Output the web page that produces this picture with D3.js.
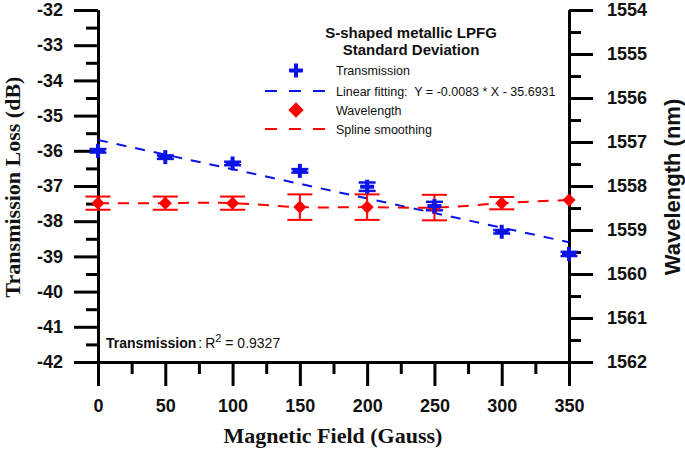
<!DOCTYPE html>
<html>
<head>
<meta charset="utf-8">
<script src="https://cdn.jsdelivr.net/npm/d3@7"></script>
<style>
  html, body { margin: 0; padding: 0; background: #fff; }
  svg { display: block; }
</style>
</head>
<body>
<svg id="chart" width="685" height="450"></svg>
<script>
// ---- data ----
const fields = [0, 50, 100, 150, 200, 250, 300, 350];
const transmission = [-36.0, -36.18, -36.36, -36.57, -37.02, -37.57, -38.30, -38.93];
const transmissionErr = [0.05, 0.05, 0.05, 0.05, 0.12, 0.12, 0.05, 0.06];
const wavelength = [1558.39, 1558.39, 1558.39, 1558.48, 1558.48, 1558.49, 1558.39, 1558.32];
const wavelengthErr = [0.15, 0.15, 0.15, 0.29, 0.29, 0.29, 0.14, 0.0];
const fitSlope = -0.0083;
const fitIntercept = -35.6931;
const xTicks = [0, 50, 100, 150, 200, 250, 300, 350];
const xMinorTicks = [25, 75, 125, 175, 225, 275, 325];
const yLeftTicks = [-42, -41, -40, -39, -38, -37, -36, -35, -34, -33, -32];
const yRightTicks = [1554, 1555, 1556, 1557, 1558, 1559, 1560, 1561, 1562];
const legendTitle = ["S-shaped metallic LPFG", "Standard Deviation"];
const legendLabels = ["Transmission", "Linear fitting:  Y = -0.0083 * X - 35.6931", "Wavelength", "Spline smoothing"];

// ---- layout ----
const svg = d3.select("#chart");
const x = d3.scaleLinear().domain([0, 350]).range([98, 569]);
const yL = d3.scaleLinear().domain([-42, -32]).range([362, 10]);
const yR = d3.scaleLinear().domain([1554, 1562]).range([10, 362]);
const BLUE = "#0a14e6", RED = "#ff0000";
const tickFont = "bold 18px Arial, 'Liberation Sans', sans-serif";
const fmt = d => String(d);

function styleAxis(g) {
  g.selectAll("path.domain").attr("stroke", "#000").attr("stroke-width", 3);
  g.selectAll(".tick line").attr("stroke", "#000").attr("stroke-width", 3);
  g.selectAll(".tick text").style("font", tickFont).attr("fill", "#111");
}
function minorVals(ticks) {
  const out = [];
  for (let i = 0; i < ticks.length - 1; i++) out.push((ticks[i] + ticks[i + 1]) / 2);
  return out;
}

// minor ticks
svg.append("g").attr("transform", "translate(0,362)")
  .call(d3.axisBottom(x).tickValues(xMinorTicks).tickSize(12).tickSizeOuter(0).tickFormat(""))
  .call(styleAxis);
svg.append("g").attr("transform", "translate(98,0)")
  .call(d3.axisLeft(yL).tickValues(minorVals(yLeftTicks)).tickSize(12).tickSizeOuter(0).tickFormat(""))
  .call(styleAxis);
svg.append("g").attr("transform", "translate(569,0)")
  .call(d3.axisRight(yR).tickValues(minorVals(yRightTicks)).tickSize(12).tickSizeOuter(0).tickFormat(""))
  .call(styleAxis);

// major axes
svg.append("g").attr("transform", "translate(0,362)")
  .call(d3.axisBottom(x).tickValues(xTicks).tickSize(24).tickSizeOuter(0).tickPadding(13).tickFormat(fmt))
  .call(styleAxis);
svg.append("g").attr("transform", "translate(98,0)")
  .call(d3.axisLeft(yL).tickValues(yLeftTicks).tickSize(24).tickSizeOuter(0).tickPadding(11).tickFormat(fmt))
  .call(styleAxis);
svg.append("g").attr("transform", "translate(569,0)")
  .call(d3.axisRight(yR).tickValues(yRightTicks).tickSize(24).tickSizeOuter(0).tickPadding(14).tickFormat(fmt))
  .call(styleAxis);

// axis titles
svg.append("text").attr("x", 333).attr("y", 443).attr("text-anchor", "middle")
  .style("font", "bold 22px 'Liberation Serif', 'Times New Roman', serif").attr("fill", "#111")
  .text("Magnetic Field (Gauss)");
svg.append("text").attr("transform", "translate(20,187) rotate(-90)").attr("text-anchor", "middle")
  .style("font", "bold 22px 'Liberation Serif', 'Times New Roman', serif").attr("fill", "#111")
  .text("Transmission Loss (dB)");
svg.append("text").attr("transform", "translate(680,187) rotate(-90)").attr("text-anchor", "middle")
  .style("font", "bold 22px Arial, 'Liberation Sans', sans-serif").attr("fill", "#111")
  .text("Wavelength (nm)");

// linear fit
const fitLine = d3.line().x(d => x(d)).y(d => yL(fitSlope * d + fitIntercept));
svg.append("path").datum([fields[0], fields[fields.length - 1]])
  .attr("d", fitLine).attr("fill", "none").attr("stroke", BLUE)
  .attr("stroke-width", 2).attr("stroke-dasharray", "10,9");

// spline
const spline = d3.line().x((d, i) => x(fields[i])).y(d => yR(d)).curve(d3.curveNatural);
svg.append("path").datum(wavelength)
  .attr("d", spline).attr("fill", "none").attr("stroke", RED)
  .attr("stroke-width", 2).attr("stroke-dasharray", "11,9");

// error bars
function errorBars(vals, errs, scale, color, capW, sw) {
  const g = svg.append("g").attr("stroke", color).attr("stroke-width", sw);
  vals.forEach((v, i) => {
    if (errs[i] <= 0) return;
    const cx = x(fields[i]);
    const y1 = scale(v - errs[i]), y2 = scale(v + errs[i]);
    g.append("line").attr("x1", cx).attr("x2", cx).attr("y1", y1).attr("y2", y2);
    g.append("line").attr("x1", cx - capW / 2).attr("x2", cx + capW / 2).attr("y1", y1).attr("y2", y1);
    g.append("line").attr("x1", cx - capW / 2).attr("x2", cx + capW / 2).attr("y1", y2).attr("y2", y2);
  });
}
errorBars(wavelength, wavelengthErr, yR, RED, 25, 2);
errorBars(transmission, transmissionErr, yL, BLUE, 17, 2.5);

// markers
const diamond = d3.symbol().type(d3.symbolDiamond2).size(110);
svg.append("g").selectAll("path").data(wavelength).join("path")
  .attr("transform", (d, i) => `translate(${x(fields[i])},${yR(d)})`)
  .attr("d", diamond).attr("fill", RED);

function plus(g, cx, cy, s, w) {
  g.append("rect").attr("x", cx - s / 2).attr("y", cy - w / 2).attr("width", s).attr("height", w);
  g.append("rect").attr("x", cx - w / 2).attr("y", cy - s / 2).attr("width", w).attr("height", s);
}
const pg = svg.append("g").attr("fill", BLUE);
transmission.forEach((v, i) => plus(pg, x(fields[i]), yL(v), 14, 4));

// legend
const lg = svg.append("g");
legendTitle.forEach((t, i) => {
  lg.append("text").attr("x", 411).attr("y", 38 + i * 16.5).attr("text-anchor", "middle")
    .style("font", "bold 15px Arial, 'Liberation Sans', sans-serif").attr("fill", "#111").text(t);
});
const rowY = [70.5, 91, 110, 129];
plus(lg.append("g").attr("fill", BLUE), 296, rowY[0], 14, 4);
lg.append("line").attr("x1", 265).attr("x2", 327).attr("y1", rowY[1]).attr("y2", rowY[1])
  .attr("stroke", BLUE).attr("stroke-width", 2).attr("stroke-dasharray", "12,12");
lg.append("path").attr("transform", `translate(296,${rowY[2]})`)
  .attr("d", d3.symbol().type(d3.symbolDiamond2).size(150)).attr("fill", RED);
lg.append("line").attr("x1", 265).attr("x2", 327).attr("y1", rowY[3]).attr("y2", rowY[3])
  .attr("stroke", RED).attr("stroke-width", 2).attr("stroke-dasharray", "12,12");
legendLabels.forEach((t, i) => {
  lg.append("text").attr("x", 336).attr("y", rowY[i] + 4.5)
    .style("font", "12.5px Arial, 'Liberation Sans', sans-serif").attr("fill", "#111")
    .attr("xml:space", "preserve").style("white-space", "pre").text(t);
});

// R^2 annotation
const r2 = svg.append("text").attr("x", 106).attr("y", 348)
  .style("font", "14px Arial, 'Liberation Sans', sans-serif").attr("fill", "#111");
r2.append("tspan").style("font-weight", "bold").text("Transmission");
r2.append("tspan").attr("dx", 2).text(":");
r2.append("tspan").attr("dx", 3).text("R");
r2.append("tspan").attr("dy", -6).style("font-size", "11px").text("2");
r2.append("tspan").attr("dy", 6).text(" = 0.9327");
</script>
</body>
</html>
